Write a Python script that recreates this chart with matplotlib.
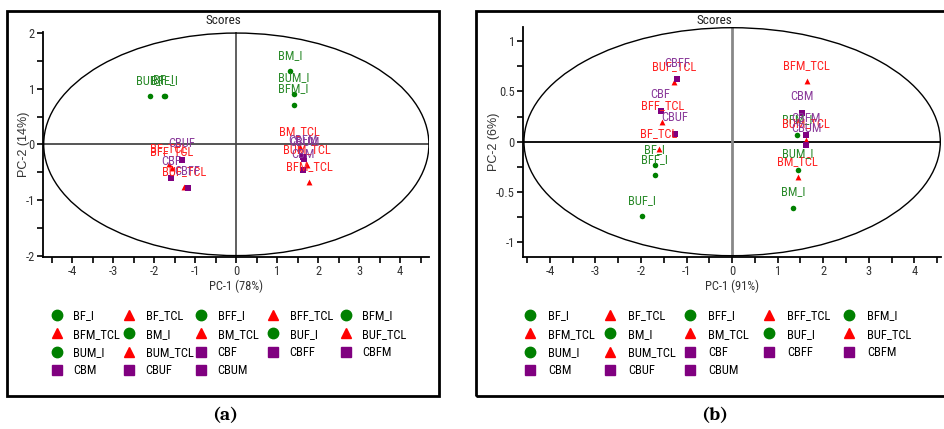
import matplotlib
matplotlib.use("Agg")
import matplotlib.pyplot as plt
from matplotlib.patches import Ellipse, Rectangle
from matplotlib.lines import Line2D
from matplotlib.ticker import FixedLocator, FormatStrFormatter
import numpy as np

NARROW = ['Liberation Sans Narrow', 'Arial Narrow', 'Roboto Condensed',
          'Archivo Narrow', 'PT Sans Narrow', 'Liberation Sans', 'DejaVu Sans']
plt.rcParams['font.family'] = NARROW
plt.rcParams['axes.unicode_minus'] = False

# ---------------- data ----------------
samples = ["BF_I", "BF_TCL", "BFF_I", "BFF_TCL", "BFM_I", "BFM_TCL",
           "BM_I", "BM_TCL", "BUF_I", "BUF_TCL", "BUM_I", "BUM_TCL",
           "CBF", "CBFF", "CBFM", "CBM", "CBUF", "CBUM"]
groups = ["I", "TCL", "I", "TCL", "I", "TCL",
          "I", "TCL", "I", "TCL", "I", "TCL",
          "C", "C", "C", "C", "C", "C"]

# panel (a)
a_pc1 = [-1.77, -1.65, -1.75, -1.58, 1.40, 1.78,
         1.31, 1.55, -2.10, -1.27, 1.40, 1.73,
         -1.59, -1.19, 1.62, 1.63, -1.33, 1.66]
a_pc2 = [0.87, -0.36, 0.86, -0.42, 0.71, -0.68,
         1.31, -0.05, 0.86, -0.77, 0.91, -0.38,
         -0.60, -0.78, -0.22, -0.47, -0.28, -0.26]
a_ellipse = (4.70, 2.00)
a_xlabel, a_ylabel = "PC-1 (78%)", "PC-2 (14%)"

# panel (b)
b_pc1 = [-1.70, -1.61, -1.70, -1.53, 1.42, 1.64,
         1.34, 1.44, -1.98, -1.28, 1.44, 1.63,
         -1.57, -1.21, 1.63, 1.54, -1.26, 1.63]
b_pc2 = [-0.235, -0.075, -0.335, 0.20, 0.065, 0.60,
         -0.66, -0.355, -0.74, 0.59, -0.28, 0.02,
         0.31, 0.62, 0.07, 0.29, 0.077, -0.03]
b_ellipse = (4.57, 1.135)
b_xlabel, b_ylabel = "PC-1 (91%)", "PC-2 (6%)"

# ---------------- style ----------------
W, H = 945, 429
mk = {"I": "o", "TCL": "^", "C": "s"}
mcol = {"I": "#008000", "TCL": "#ff0000", "C": "#800080"}
tcol = {"I": "#2a8a2a", "TCL": "#ff2222", "C": "#8a3a9a"}
msize = {"I": 16, "TCL": 18, "C": 24}

fig = plt.figure(figsize=(W / 100, H / 100), dpi=100)


def fx(px):
    return px / W


def fy(py):
    return 1 - py / H


def panel(rect, pc1, pc2, ell, xlab, ylab, xlim, ylim, ymaj, ymin_, hcol, vcol,
          box, title_x, leg_x, leg_pad, ylab_x, tag, tag_x):
    ax = fig.add_axes(rect)
    for name, g, x, y in zip(samples, groups, pc1, pc2):
        ax.scatter([x], [y], marker=mk[g], s=msize[g], color=mcol[g],
                   linewidths=0, zorder=4)
        ax.annotate(name, (x, y), xytext=(0, 11.5), textcoords='offset points',
                    ha='center', va='center', color=tcol[g], fontsize=9, zorder=5)
    ax.add_patch(Ellipse((0, 0), 2 * ell[0], 2 * ell[1], fill=False,
                         ec='black', lw=1.0, zorder=2))
    ax.axhline(0, color=hcol[0], lw=hcol[1], zorder=1)
    ax.axvline(0, color=vcol[0], lw=vcol[1], zorder=1)
    ax.set_xlim(*xlim)
    ax.set_ylim(*ylim)
    ax.set_xticks(np.arange(-4, 5, 1))
    ax.xaxis.set_minor_locator(FixedLocator(np.arange(-4.5, 4.6, 0.5)))
    ax.set_yticks(ymaj)
    ax.yaxis.set_major_formatter(FormatStrFormatter('%g'))
    ax.yaxis.set_minor_locator(FixedLocator(ymin_))
    ax.tick_params(which='both', direction='out', length=4, width=1.2,
                   labelsize=9, labelcolor='#333333', pad=2)
    ax.spines['top'].set_visible(False)
    ax.spines['right'].set_visible(False)
    ax.spines['left'].set_linewidth(1.3)
    ax.spines['bottom'].set_linewidth(1.3)
    ax.set_xlabel(xlab, fontsize=9, color='#333333')
    ax.xaxis.set_label_coords(0.5, ((H - 286) - rect[1] * H) / (rect[3] * H))
    ax.xaxis.label.set_va('center')
    ax.set_ylabel(ylab, fontsize=9, color='#333333',
                  family=['Liberation Sans', 'DejaVu Sans'])
    ax.yaxis.set_label_coords((ylab_x - rect[0] * W) / (rect[2] * W), 0.5)
    ax.yaxis.label.set_va('center')
    # panel frame and title
    fig.add_artist(Rectangle((fx(box[0]), fy(box[3])), fx(box[2] - box[0]),
                             (box[3] - box[1]) / H, transform=fig.transFigure,
                             fill=False, ec='black', lw=2))
    fig.text(fx(title_x), fy(21), "Scores", ha='center', va='center',
             fontsize=9.5, color='#222222')
    # legend: 5 columns, row-major order as in reference
    handles = [Line2D([], [], marker=mk[g], color=mcol[g], linestyle='none',
                      markersize=7.5 if g != "TCL" else 7) for g in groups]
    ncol = 5
    for c in range(ncol):
        idx = list(range(c, len(samples), ncol))
        fig.legend([handles[i] for i in idx], [samples[i] for i in idx],
                   loc='upper left', bbox_to_anchor=(fx(leg_x[c] - 6.2), fy(309.5)),
                   frameon=False, borderpad=0, borderaxespad=0, handlelength=1.0,
                   handletextpad=leg_pad, labelspacing=0.42, fontsize=9)
    fig.text(fx(tag_x), fy(416), tag, ha='center', va='center', fontsize=14,
             fontweight='bold', family=['Caladea', 'DejaVu Serif'])
    return ax


rect_a = [fx(43.3), fy(256.7), fx(386), 224.2 / H]
panel(rect_a, a_pc1, a_pc2, a_ellipse, a_xlabel, a_ylabel,
      (-4.71, 4.71), (-2.02, 2.01), [-2, -1, 0, 1, 2], np.arange(-1.5, 2, 1.0),
      ('#555555', 1.4), ('#444444', 1.2), (7, 10.5, 439, 396), 223,
      [56.7, 129.3, 201.3, 273.3, 346], 0.8, 24, "(a)", 225)

rect_b = [fx(523.3), fy(256.7), fx(417.7), 230 / H]
panel(rect_b, b_pc1, b_pc2, b_ellipse, b_xlabel, b_ylabel,
      (-4.585, 4.585), (-1.145, 1.145), [-1, -0.5, 0, 0.5, 1],
      [-0.75, -0.25, 0.25, 0.75],
      ('#111111', 1.4), ('#888888', 2.0), (476, 10.5, 952, 396), 714,
      [530, 610, 690, 769.3, 849], 0.92, 494, "(b)", 715)

fig.savefig("out.png", dpi=100)
